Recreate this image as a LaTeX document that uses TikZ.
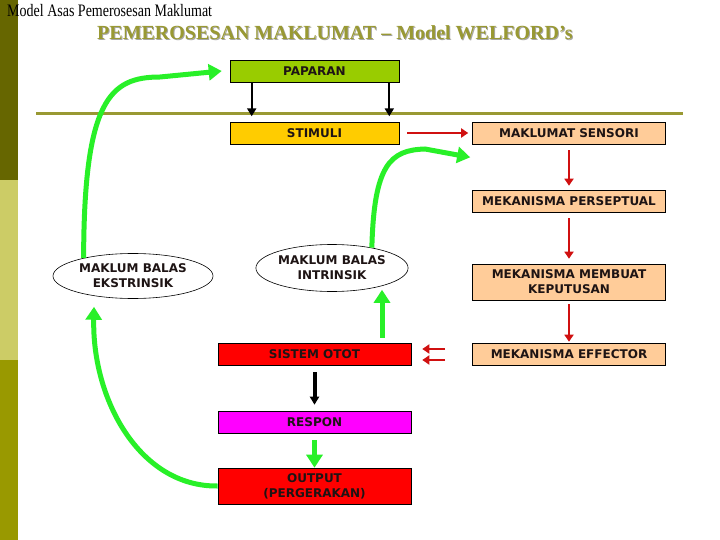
\documentclass[tikz,border=0pt]{standalone}
\usepackage{fontspec}
\usepackage{graphicx}
\usepackage{xcolor}
\usepackage{tikz}
\usetikzlibrary{shapes.geometric,arrows.meta}
\setmainfont{Liberation Serif}
\newfontfamily\boxfont{DejaVu Sans}
\definecolor{bardark}{RGB}{102,102,0}
\definecolor{barlight}{RGB}{204,204,102}
\definecolor{barmid}{RGB}{153,153,0}
\definecolor{olivetitle}{RGB}{153,153,51}
\definecolor{paparangreen}{RGB}{153,204,0}
\definecolor{stimuliyellow}{RGB}{255,204,0}
\definecolor{peach}{RGB}{255,204,153}
\definecolor{ototred}{RGB}{255,0,0}
\definecolor{responpink}{RGB}{255,0,255}
\definecolor{arrowred}{RGB}{208,16,16}
\definecolor{limegreen}{RGB}{40,240,40}
\definecolor{textdark}{RGB}{30,20,20}

\tikzset{
    box/.style={draw=black, line width=0.6pt, minimum width=193pt, minimum height=22pt,
        inner sep=0pt, align=center, text=textdark,
        font=\boxfont\bfseries\fontsize{12}{15}\selectfont},
    balas/.style={ellipse, draw=black, line width=0.6pt, fill=white, inner sep=0pt,
        align=center, text=textdark, font=\boxfont\bfseries\fontsize{12}{15}\selectfont},
    redarrow/.style={draw=arrowred, line width=2.5pt, -{Triangle[length=7pt,width=9pt]}},
    blackarrow/.style={draw=black, line width=2.2pt, -{Triangle[length=8pt,width=9pt]}},
    greenarrow/.style={draw=limegreen, line width=5pt, -{Triangle[length=13pt,width=16pt]}}
}

\begin{document}
\begin{tikzpicture}[x=1pt,y=-1pt]
    \useasboundingbox (0,0) rectangle (720,540);
    \fill[white] (0,0) rectangle (720,540);

    % side bar
    \fill[bardark] (0,0) rectangle (18,180);
    \fill[barlight] (0,180) rectangle (18,360);
    \fill[barmid] (0,360) rectangle (18,540);

    % headings
    \node[anchor=base west, inner sep=0pt] (header) at (7,17)
        {\fontsize{14}{14}\selectfont\scalebox{1}[1.25]{Model Asas Pemerosesan Maklumat}};
    \node[anchor=base west, inner sep=0pt, text=gray!70] at (98,41)
        {\fontsize{20}{20}\selectfont\bfseries PEMEROSESAN MAKLUMAT -- Model WELFORD’s};
    \node[anchor=base west, inner sep=0pt, text=olivetitle] (title) at (97,40)
        {\fontsize{20}{20}\selectfont\bfseries PEMEROSESAN MAKLUMAT -- Model WELFORD’s};

    % dividing line
    \draw[olivetitle, line width=3pt] (36,114) -- (683,114);

    % boxes
    \node[box, fill=paparangreen, minimum width=169pt] (paparan) at (314.5,71) {PAPARAN};
    \node[box, fill=stimuliyellow, minimum width=169pt] (stimuli) at (314.5,133) {STIMULI};
    \node[box, fill=peach] (sensori) at (569,133) {MAKLUMAT SENSORI};
    \node[box, fill=peach] (perseptual) at (569,201) {MEKANISMA PERSEPTUAL};
    \node[box, fill=peach, minimum height=36pt] (membuat) at (569,282) {MEKANISMA MEMBUAT\\KEPUTUSAN};
    \node[box, fill=peach] (effector) at (569,354) {MEKANISMA EFFECTOR};
    \node[box, fill=ototred] (otot) at (314.5,354) {SISTEM OTOT};
    \node[box, fill=responpink] (respon) at (314.5,422) {RESPON};
    \node[box, fill=ototred, minimum height=36pt] (output) at (314.5,486) {OUTPUT\\(PERGERAKAN)};

    % feedback ellipses
    \node[balas, minimum width=148pt, minimum height=47pt] (intrinsik) at (332,268) {MAKLUM BALAS\\INTRINSIK};
    \node[balas, minimum width=160pt, minimum height=45pt] (ekstrinsik) at (133,276) {MAKLUM BALAS\\EKSTRINSIK};

    % black arrows
    \draw[blackarrow] ([xshift=22pt]paparan.south west) -- ++(0,34);
    \draw[blackarrow] ([xshift=-10pt]paparan.south east) -- ++(0,34);
    \draw[blackarrow, line width=4pt] ([yshift=-7pt]otot.south) -- ([yshift=6pt]respon.north);

    % red arrows
    \draw[redarrow] ([xshift=8pt]stimuli.east) -- ([xshift=-4pt]sensori.west);
    \draw[redarrow, shorten <=6pt, shorten >=4pt] (sensori) -- (perseptual);
    \draw[redarrow, shorten <=6pt, shorten >=5pt] (perseptual.south) -- (membuat.north);
    \draw[redarrow, shorten <=4pt, shorten >=1pt] (membuat.south) -- (effector.north);
    \draw[redarrow] ([xshift=-27pt,yshift=5pt]effector.west) -- ([xshift=11pt,yshift=5pt]otot.east);
    \draw[redarrow] ([xshift=-27pt,yshift=-6pt]effector.west) -- ([xshift=11pt,yshift=-6pt]otot.east);

    % green arrows
    \draw[greenarrow] ([xshift=67.5pt,yshift=5pt]otot.north) -- ([xshift=50pt,yshift=2pt]intrinsik.south);
    \draw[greenarrow] ([yshift=-7pt]respon.south) -- (output.north);
    \draw[greenarrow] (output.west) .. controls (140,487) and (92,400) .. ([xshift=-39pt,yshift=-8pt]ekstrinsik.south);
    \draw[greenarrow] (ekstrinsik.160) .. controls (84,100) and (110,77) .. (160,77) -- ([xshift=-8pt]paparan.west);
    \draw[greenarrow] (intrinsik.27) .. controls (374,165) and (390,150) .. (425,149) -- ([xshift=-2pt,yshift=-13pt]sensori.south west);
\end{tikzpicture}
\end{document}
